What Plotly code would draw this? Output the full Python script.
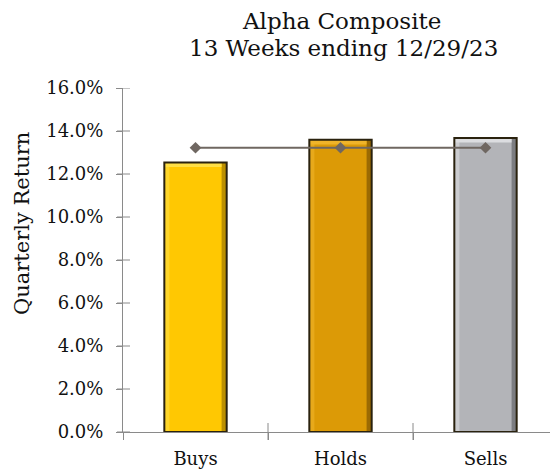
import plotly.graph_objects as go

categories = ["Buys", "Holds", "Sells"]
quarterly_return = [12.54, 13.59, 13.68]
benchmark = [13.22, 13.22, 13.22]
tick_vals = [0, 2, 4, 6, 8, 10, 12, 14, 16]
tick_text = [f"{v:.1f}%" for v in tick_vals]
title_lines = ["Alpha Composite", "13 Weeks ending 12/29/23"]
y_title = "Quarterly Return"

bar_colors = ["#FFC802", "#DC9A06", "#B3B4B8"]
bevel_light = ["#FFDF45", "#EFB42A", "#DCDDE0"]
bevel_dark = ["#B08600", "#8F6204", "#727377"]
font_family = "DejaVu Serif, Georgia, serif"

# page has an 8px body margin; positions below are in window pixels
OFF = 8
W, H = 558, 473
L, R, T, B = 123 - OFF, OFF, 88 - OFF, 41 + OFF
pw, ph = W - L - R, H - T - B

BW = 0.43
SX = 0.035   # side bevel (category units)
SY = 0.22    # top bevel (value units)

fig = go.Figure()
common = dict(showlegend=False, hoverinfo="skip")
fig.add_trace(go.Bar(x=categories, y=quarterly_return, width=BW, offset=-BW / 2,
                     marker=dict(color=bar_colors, line=dict(width=0)), **common))
fig.add_trace(go.Bar(x=categories, y=quarterly_return, width=SX, offset=-BW / 2,
                     marker=dict(color=bevel_light, line=dict(width=0), opacity=0.6), **common))
fig.add_trace(go.Bar(x=categories, y=quarterly_return, width=SX, offset=BW / 2 - SX,
                     marker=dict(color=bevel_dark, line=dict(width=0), opacity=0.85), **common))
fig.add_trace(go.Bar(x=categories, y=[SY] * len(categories),
                     base=[v - SY for v in quarterly_return], width=BW - SX, offset=-BW / 2,
                     marker=dict(color=bevel_light, line=dict(width=0)), **common))
fig.add_trace(go.Bar(x=categories, y=quarterly_return, width=BW, offset=-BW / 2,
                     marker=dict(color="rgba(0,0,0,0)", line=dict(color="#2a220e", width=2)),
                     **common))
fig.add_trace(go.Scatter(
    x=categories, y=benchmark, mode="lines+markers",
    line=dict(color="#6f6761", width=2),
    marker=dict(symbol="diamond", size=9, color="#6f6761"),
    **common,
))

def px_x(x):
    return (x - OFF - L) / pw

def px_y(y):
    return (H - B - (y - OFF)) / ph

axis_col = "#8a8a8a"

# crossing tick marks (axis decoration)
shapes = []
for v in tick_vals:
    shapes.append(dict(type="line", xref="paper", yref="y",
                       x0=px_x(117), x1=px_x(130), y0=v, y1=v,
                       line=dict(color=axis_col, width=1), layer="above"))
for k in range(1, len(categories) + 1):
    shapes.append(dict(type="line", xref="x", yref="paper",
                       x0=k - 0.5, x1=k - 0.5, y0=px_y(423), y1=px_y(440),
                       line=dict(color=axis_col, width=1), layer="above"))
shapes.append(dict(type="line", xref="x", yref="paper",
                   x0=-0.5, x1=-0.5, y0=0, y1=px_y(437),
                   line=dict(color=axis_col, width=1), layer="above"))

annotations = [
    dict(text=title_lines[0], x=px_x(341), y=px_y(21), xref="paper", yref="paper",
         xanchor="center", yanchor="middle", showarrow=False,
         font=dict(family=font_family, size=23, color="#111111")),
    dict(text=title_lines[1], x=px_x(343), y=px_y(48), xref="paper", yref="paper",
         xanchor="center", yanchor="middle", showarrow=False,
         font=dict(family=font_family, size=23, color="#111111")),
    dict(text=y_title, x=px_x(22), y=px_y(224), xref="paper", yref="paper",
         xanchor="center", yanchor="middle", showarrow=False, textangle=-90,
         font=dict(family=font_family, size=21, color="#111111")),
]

fig.update_layout(
    width=W, height=H,
    margin=dict(l=L, r=R, t=T, b=B),
    paper_bgcolor="white", plot_bgcolor="white",
    barmode="overlay",
    font=dict(family=font_family, color="#111111", size=18),
    annotations=annotations,
    shapes=shapes,
    xaxis=dict(
        range=[-0.5, 2.5], showline=True, linecolor=axis_col, linewidth=1,
        ticks="outside", tickson="boundaries", ticklen=7, tickcolor=axis_col,
        ticklabelstandoff=10,
        showgrid=False, tickfont=dict(size=18), automargin=False,
    ),
    yaxis=dict(
        range=[0, 16], tickvals=tick_vals, ticktext=tick_text,
        showline=True, linecolor=axis_col, linewidth=1,
        ticks="outside", ticklen=6, tickcolor=axis_col, ticklabelstandoff=9,
        showgrid=False, zeroline=False, tickfont=dict(size=18), automargin=False,
    ),
)

fig.write_html("out.html")
